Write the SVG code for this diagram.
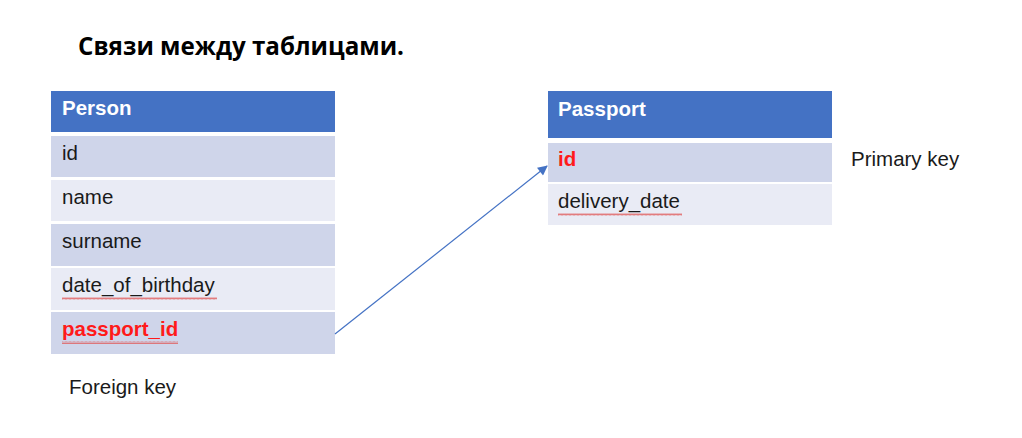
<svg xmlns="http://www.w3.org/2000/svg" width="1022" height="438" viewBox="0 0 1022 438">
<defs>
<style>
.hdr{fill:#4472C4}
.dark{fill:#CFD5EA}
.light{fill:#E9EBF5}
.ht{font-family:"Liberation Sans",Arial,sans-serif;font-size:20.5px;font-weight:bold;fill:#FFFFFF}
.ft{font-family:"Liberation Sans",Arial,sans-serif;font-size:20.5px;fill:#1a1a1a}
.key{font-family:"Liberation Sans",Arial,sans-serif;font-size:20.5px;font-weight:bold;fill:#FF1A1A}
.lbl{font-family:"Liberation Sans",Arial,sans-serif;font-size:20.5px;fill:#1a1a1a}
.wavy{fill:none;stroke:#E06060;stroke-width:0.8}
</style>
<marker id="arr" viewBox="0 0 10 10" refX="9" refY="5" markerWidth="11" markerHeight="10" orient="auto" markerUnits="userSpaceOnUse">
<path d="M0,0 L10,5 L0,10 z" fill="#4472C4"/>
</marker>
<pattern id="wv" width="4" height="3" patternUnits="userSpaceOnUse">
<path d="M0,2.5 L1,0.5 L2,2.5 L3,0.5 L4,2.5" class="wavy"/>
</pattern>
</defs>
<rect width="1022" height="438" fill="#FFFFFF"/>
<text x="78" y="55" font-family="'Open Sans','Noto Sans',sans-serif" font-size="25" font-weight="bold" fill="#000000" textLength="326" lengthAdjust="spacingAndGlyphs">Связи между таблицами.</text>

<g id="person">
<rect class="hdr" x="51" y="91" width="284" height="41"/>
<text class="ht" x="62" y="115">Person</text>
<rect class="dark" x="51" y="136" width="284" height="41"/>
<text class="ft" x="62" y="160">id</text>
<rect class="light" x="51" y="180" width="284" height="41"/>
<text class="ft" x="62" y="204">name</text>
<rect class="dark" x="51" y="224" width="284" height="42"/>
<text class="ft" x="62" y="248">surname</text>
<rect class="light" x="51" y="268" width="284" height="42"/>
<text class="ft" x="62" y="292">date_of_birthday</text>
<rect x="62" y="297" width="155" height="3" fill="url(#wv)"/>
<rect class="dark" x="51" y="312" width="284" height="42"/>
<text class="key" x="62" y="336">passport_id</text>
<rect x="62" y="341" width="116" height="3" fill="url(#wv)"/>
</g>

<g id="passport">
<rect class="hdr" x="548" y="91" width="284" height="47"/>
<text class="ht" x="558" y="116">Passport</text>
<rect class="dark" x="548" y="143" width="284" height="39"/>
<text class="key" x="558" y="166">id</text>
<rect class="light" x="548" y="184" width="284" height="41"/>
<text class="ft" x="558" y="208">delivery_date</text>
<rect x="558" y="213" width="124" height="3" fill="url(#wv)"/>
</g>

<g id="labels">
<text class="lbl" x="851" y="166">Primary key</text>
<text class="lbl" x="69" y="394">Foreign key</text>
</g>

<g id="connectors">
<line x1="335" y1="334" x2="547" y2="166" stroke="#4472C4" stroke-width="1.2" marker-end="url(#arr)"/>
</g>
</svg>
